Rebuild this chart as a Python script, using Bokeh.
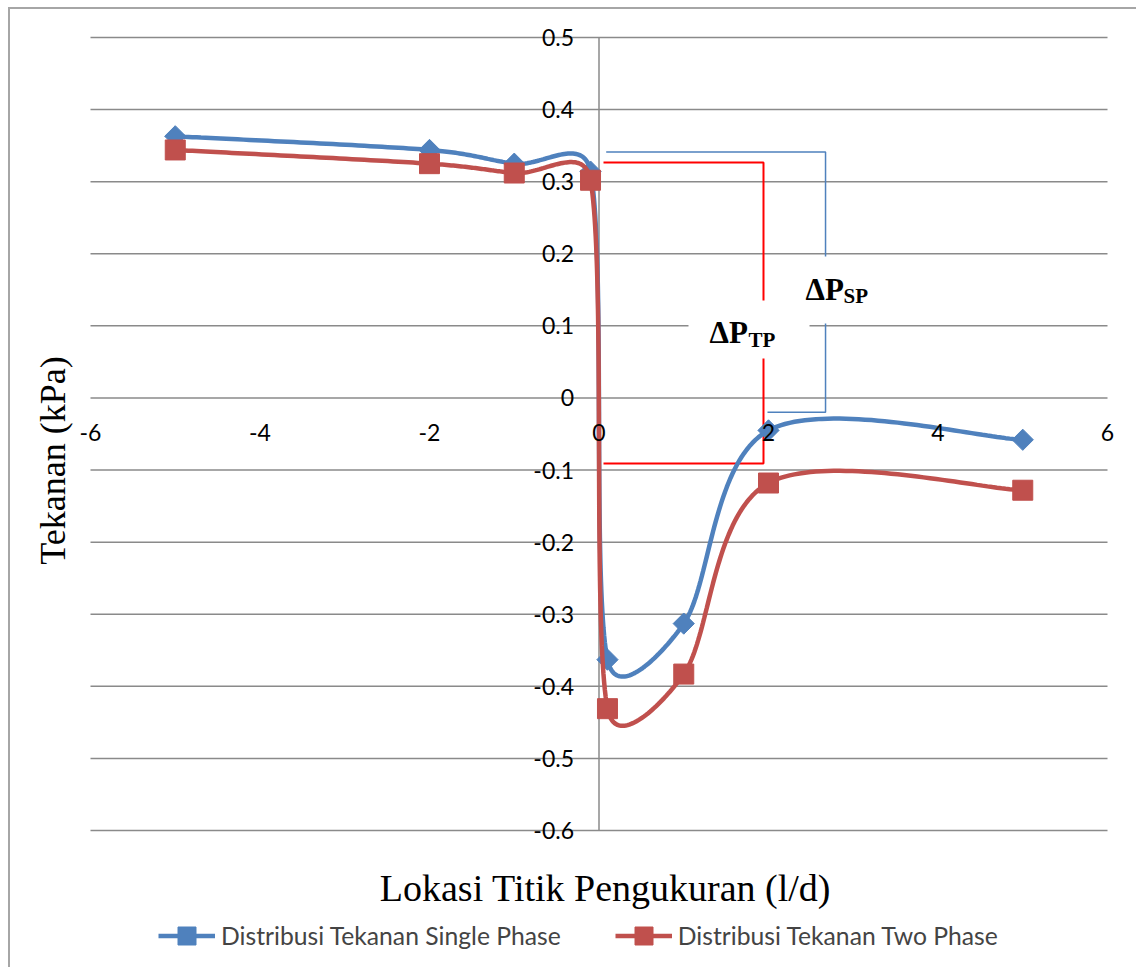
import numpy as np
from bokeh.plotting import figure
from bokeh.models import Legend, LegendItem
from bokeh.core.properties import value
from bokeh.embed import file_html
from bokeh.resources import INLINE

# Measurement locations (l/d) and pressures (kPa)
lokasi = [-5, -2, -1, -0.1, 0.1, 1, 2, 5]
tekanan_single = [0.363, 0.344, 0.325, 0.314, -0.363, -0.313, -0.045, -0.058]
tekanan_two = [0.344, 0.325, 0.312, 0.302, -0.431, -0.383, -0.118, -0.128]

x_ticks = [-6, -4, -2, 0, 2, 4, 6]
x_tick_labels = ["-6", "-4", "-2", "0", "2", "4", "6"]
y_ticks = [-0.6, -0.5, -0.4, -0.3, -0.2, -0.1, 0, 0.1, 0.2, 0.3, 0.4, 0.5]
y_tick_labels = ["-0.6", "-0.5", "-0.4", "-0.3", "-0.2", "-0.1", "0",
                 "0.1", "0.2", "0.3", "0.4", "0.5"]

# canvas size and the pixel box spanned by the axis limits
W, H = 1128, 960
PL, PR, PT, PB = 80, 1097, 28, 821
XMIN, XMAX = x_ticks[0], x_ticks[-1]
YMIN, YMAX = y_ticks[0], y_ticks[-1]
PX_X = (PR - PL) / (XMAX - XMIN)
PX_Y = (PB - PT) / (YMAX - YMIN)
X_START, X_END = XMIN - PL / PX_X, XMAX + (W - PR) / PX_X
Y_START, Y_END = YMIN - (H - PB) / PX_Y, YMAX + PT / PX_Y


def at_x(px):
    return X_START + px / PX_X


def at_y(py):
    return Y_END - py / PX_Y


BLUE = "#4F81BD"
RED = "#C0504D"
GRID = "#8a8a8a"
TICK_FONT = "Lato"
SERIF = "Liberation Serif"


def smooth(xs, ys, n=48):
    """Bezier smoothing done in screen space, tangents limited by segment length."""
    P = np.column_stack([np.asarray(xs, float) * PX_X, np.asarray(ys, float) * PX_Y])
    m = len(P)
    out = [P[0]]
    t = np.linspace(0, 1, n)[1:]
    for i in range(m - 1):
        p0 = P[i - 1] if i > 0 else P[i]
        p1, p2 = P[i], P[i + 1]
        p3 = P[i + 2] if i + 2 < m else P[i + 1]
        lim = np.hypot(*(p2 - p1)) / 2
        d1 = (p2 - p0) / 6
        d2 = (p3 - p1) / 6
        for d in (d1, d2):
            ln = np.hypot(*d)
            if ln > lim:
                d *= lim / ln
        c1, c2 = p1 + d1, p2 - d2
        pts = (((1 - t) ** 3)[:, None] * p1 + (3 * (1 - t) ** 2 * t)[:, None] * c1
               + (3 * (1 - t) * t ** 2)[:, None] * c2 + (t ** 3)[:, None] * p2)
        out.extend(pts)
    out = np.array(out)
    return out[:, 0] / PX_X, out[:, 1] / PX_Y


p = figure(width=W, height=H, x_range=(X_START, X_END), y_range=(Y_START, Y_END),
           output_backend="svg", toolbar_location=None,
           min_border=0, margin=(7, 0, 0, 8),
           styles={"border-left": "2px solid #a6a6a6", "border-top": "2px solid #a6a6a6"})
p.background_fill_color = "white"
p.border_fill_color = "white"
p.outline_line_color = None
p.axis.visible = False
p.grid.visible = False

# horizontal gridlines and the vertical axis through x = 0
p.segment(x0=XMIN, x1=XMAX, y0=y_ticks, y1=y_ticks, line_color=GRID, line_width=1.5)
p.segment(x0=0, x1=0, y0=YMIN, y1=YMAX, line_color=GRID, line_width=1.5)

# axis titles
p.text(x=[at_x(42)], y=[at_y(451)], text=["Tekanan (kPa)"], angle=np.pi / 2,
       text_align="center", text_baseline="middle", text_font=value(SERIF),
       text_font_size="36px", text_color="black")
p.text(x=[at_x(595)], y=[at_y(878)], text=["Lokasi Titik Pengukuran (l/d)"],
       text_align="center", text_baseline="middle", text_font=value(SERIF),
       text_font_size="38px", text_color="black")

# pressure-drop brackets
p.line([0.053, 1.941, 1.941, 0.053], [0.3266, 0.3266, -0.0908, -0.0908],
       line_color="#FF0000", line_width=2)
p.line([0.085, 2.673, 2.673, 1.988], [0.341, 0.341, -0.020, -0.020],
       line_color=BLUE, line_width=1.5)
p.quad(left=[1.056, 2.319], right=[2.484, 3.32], bottom=[0.0548, 0.1033],
       top=[0.1352, 0.1963], fill_color="white", line_color=None)

lbl = dict(text_font=value(SERIF), text_font_style="bold",
           text_baseline="middle", text_align="left", text_color="black")
p.text(x=[1.304, 2.437], y=[0.091, 0.150], text=["ΔP", "ΔP"], text_font_size="31px", **lbl)
p.text(x=[1.764, 2.885], y=[0.081, 0.142], text=["TP", "SP"], text_font_size="21px", **lbl)

# series
sx, sy = smooth(lokasi, tekanan_single)
tx, ty = smooth(lokasi, tekanan_two)
l1 = p.line(sx, sy, line_color=BLUE, line_width=4.5)
m1 = p.scatter(lokasi, tekanan_single, marker="square", angle=np.pi / 4, size=15,
               fill_color=BLUE, line_color=BLUE)
l2 = p.line(tx, ty, line_color=RED, line_width=4.5)
m2 = p.scatter(lokasi, tekanan_two, marker="square", size=20,
               fill_color=RED, line_color=RED)

# tick labels on the crossing axes, drawn above the series
p.text(x=x_ticks, y=[0] * len(x_ticks), text=x_tick_labels, y_offset=35,
       text_align="center", text_baseline="middle", text_font=value(TICK_FONT),
       text_font_size="23px", text_color="black")
p.text(x=[0] * len(y_ticks), y=y_ticks, text=y_tick_labels, x_offset=-25,
       text_align="right", text_baseline="middle", text_font=value(TICK_FONT),
       text_font_size="23px", text_color="black")

legend = Legend(items=[LegendItem(label="Distribusi Tekanan Single Phase", renderers=[l1, m1]),
                       LegendItem(label="Distribusi Tekanan Two Phase", renderers=[l2, m2])],
                orientation="horizontal", location=(148, 11),
                glyph_width=57, glyph_height=45, label_standoff=6, spacing=54,
                padding=0, margin=0, border_line_color=None, background_fill_alpha=0,
                label_text_font=TICK_FONT, label_text_font_size="24.7px")
p.add_layout(legend)

open("out.html", "w").write(file_html(p, INLINE))
